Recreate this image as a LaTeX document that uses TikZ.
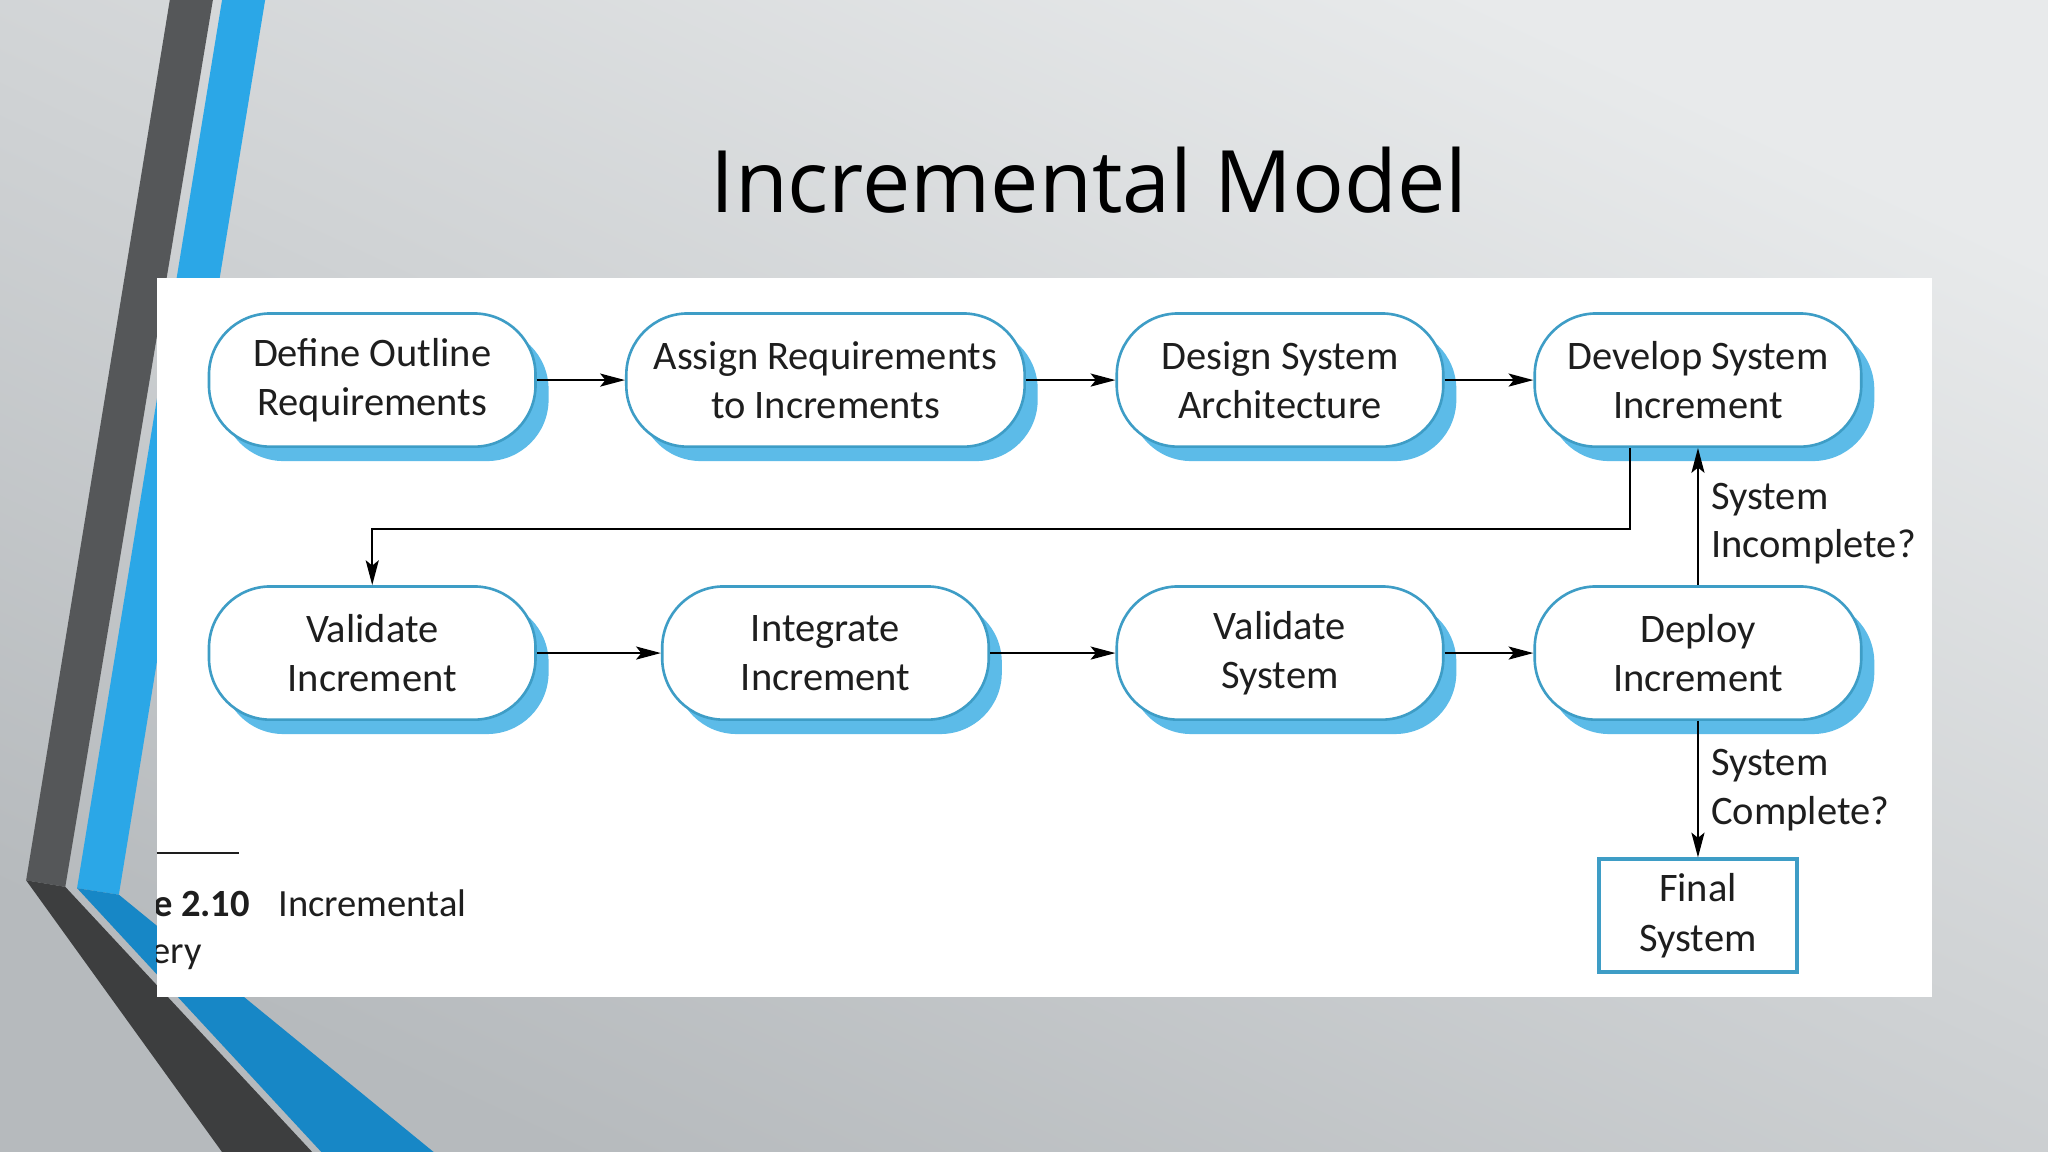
\documentclass[tikz,border=0pt]{standalone}
\usepackage{fontspec}
\setmainfont{Carlito}
\newfontfamily\titlefont{Open Sans}
\usetikzlibrary{shadows,arrows.meta}
\definecolor{bgtop}{HTML}{E8EAEB}
\definecolor{bgbot}{HTML}{B6BABD}
\definecolor{darkup}{HTML}{555759}
\definecolor{darklow}{HTML}{3D3E3F}
\definecolor{blueup}{HTML}{2BA7E7}
\definecolor{bluelow}{HTML}{1787C6}
\definecolor{boxline}{HTML}{3E9DC6}
\definecolor{shadowblue}{HTML}{5CBBE8}
\definecolor{textdark}{HTML}{1E1E1E}
\tikzset{
  stadium/.style={draw=boxline, line width=2pt, fill=white, rounded corners=47pt,
    minimum width=250pt, minimum height=102pt, align=center, inner sep=0pt,
    font=\fontsize{31}{38}\selectfont, text=textdark,
    drop shadow={shadow xshift=10pt, shadow yshift=-11pt, fill=shadowblue, opacity=1}},
  finbox/.style={draw=boxline, line width=3pt, fill=white, minimum width=152pt,
    minimum height=86pt, align=center, inner sep=0pt,
    font=\fontsize{31}{38}\selectfont, text=textdark},
  arr/.style={draw=black, line width=1.6pt, -{Stealth[length=19pt,width=10pt,inset=4pt]}},
  lbl/.style={anchor=west, align=left, inner sep=0pt, font=\fontsize{31}{37}\selectfont, text=textdark},
  captxt/.style={anchor=base west, inner sep=0pt, font=\fontsize{29.5}{36}\selectfont, text=textdark}
}
\begin{document}
\begin{tikzpicture}[x=1pt,y=-1pt]
\useasboundingbox (0,0) rectangle (1568,882);
% background
\shade[top color=bgtop, bottom color=bgbot, shading angle=-25] (0,0) rectangle (1568,882);
% decorative stripes
\fill[darkup] (130,0) -- (163,0) -- (50,679) -- (20,674) -- cycle;
\fill[darklow] (20,674) -- (50,679) -- (239,882) -- (170,882) -- cycle;
\fill[blueup] (170,0) -- (203,0) -- (91,685) -- (59,680) -- cycle;
\fill[bluelow] (59,680) -- (91,685) -- (332,882) -- (246,882) -- cycle;
% title
\node[font=\titlefont\fontsize{66}{80}\selectfont, anchor=base, inner sep=0pt] (title) at (834,163) {Incremental Model};
% white panel
\fill[white] (120,213) rectangle (1479,763);
% boxes
\node[stadium] (b1) at (285,291) {Define Outline\\Requirements};
\node[stadium, minimum width=305pt] (b2) at (632,291) {Assign Requirements\\to Increments};
\node[stadium] (b3) at (980,291) {Design System\\Architecture};
\node[stadium] (b4) at (1300,291) {Develop System\\Increment};
\node[stadium] (b5) at (285,500) {Validate\\Increment};
\node[stadium] (b6) at (632,500) {Integrate\\Increment};
\node[stadium] (b7) at (980,500) {Validate\\System};
\node[stadium] (b8) at (1300,500) {Deploy\\Increment};
\node[finbox] (fin) at (1300,701) {Final\\System};
% connectors
\draw[arr] (b1.east) -- (b2.west);
\draw[arr] (b2.east) -- (b3.west);
\draw[arr] (b3.east) -- (b4.west);
\draw[arr] ([xshift=-52pt]b4.south) -- ++(0,62) -| (b5.north);
\draw[arr] (b5.east) -- (b6.west);
\draw[arr] (b6.east) -- (b7.west);
\draw[arr] (b7.east) -- (b8.west);
\draw[arr] (b8.north) -- (b4.south);
\draw[arr] (b8.south) -- (fin.north);
% labels
\node[lbl] (linc) at (1310,401) {System\\Incomplete?};
\node[lbl] (lcom) at (1310,605) {System\\Complete?};
% caption
\draw[line width=1.8pt, textdark] (120,653) -- (183,653);
\begin{scope}
\clip (120,213) rectangle (1479,763);
\node[captxt] (cap1) at (117,702) {\textbf{e 2.10}};
\node[captxt] (cap2) at (213,702) {Incremental};
\node[captxt] (cap3) at (116,738) {ery};
\end{scope}
\end{tikzpicture}
\end{document}
